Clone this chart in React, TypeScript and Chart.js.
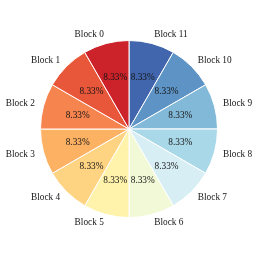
import React, { useEffect, useRef } from "react";
import { Chart, registerables } from "chart.js";

Chart.register(...registerables);

// Clockwise from 12 o'clock (Block 11 top-right ... Block 0 top-left)
const labels = ["Block 11", "Block 10", "Block 9", "Block 8", "Block 7", "Block 6", "Block 5", "Block 4", "Block 3", "Block 2", "Block 1", "Block 0"];
const values = [8.33, 8.33, 8.33, 8.33, 8.33, 8.33, 8.33, 8.33, 8.33, 8.33, 8.33, 8.33];
const colors = ["#4166ad", "#5e93c5", "#83b9d8", "#a9d8e8", "#d8eef5", "#f2f9d6", "#fff2aa", "#fed382", "#fdb163", "#f6844f", "#e8573a", "#cc2229"];

const labelPlugin = {
  id: "pieLabels",
  afterDatasetsDraw(chart: any) {
    const ctx = chart.ctx;
    const meta = chart.getDatasetMeta(0);
    const total = values.reduce((a, b) => a + b, 0);
    ctx.save();
    ctx.font = "9.3px 'Liberation Serif', 'DejaVu Serif', serif";
    ctx.fillStyle = "#151515";
    meta.data.forEach((arc: any, i: number) => {
      const mid = (arc.startAngle + arc.endAngle) / 2;
      const r = arc.outerRadius;
      const c = Math.cos(mid), s = Math.sin(mid);
      ctx.textBaseline = "middle";
      ctx.textAlign = Math.abs(c) < 1e-6 ? "center" : c > 0 ? "left" : "right";
      ctx.fillText(labels[i], arc.x + c * r * 1.1, arc.y + s * r * 1.1);
      ctx.textAlign = "center";
      const pct = ((values[i] / total) * 100).toFixed(2) + "%";
      ctx.fillText(pct, arc.x + c * r * 0.6, arc.y + s * r * 0.6);
    });
    ctx.restore();
  },
};

export default function App() {
  const ref = useRef<HTMLCanvasElement>(null);
  useEffect(() => {
    document.body.style.margin = "0";
    const chart = new Chart(ref.current!, {
      type: "pie",
      data: {
        labels,
        datasets: [{ data: values, backgroundColor: colors, borderColor: "#ffffff", borderWidth: 1 }],
      },
      options: {
        responsive: false,
        animation: false,
        layout: { padding: 40 },
        plugins: { legend: { display: false }, tooltip: { enabled: false } },
      },
      plugins: [labelPlugin],
    });
    return () => chart.destroy();
  }, []);
  return (
    <div style={{ width: 258, height: 258, background: "#fff" }}>
      <canvas ref={ref} width={258} height={258} />
    </div>
  );
}
